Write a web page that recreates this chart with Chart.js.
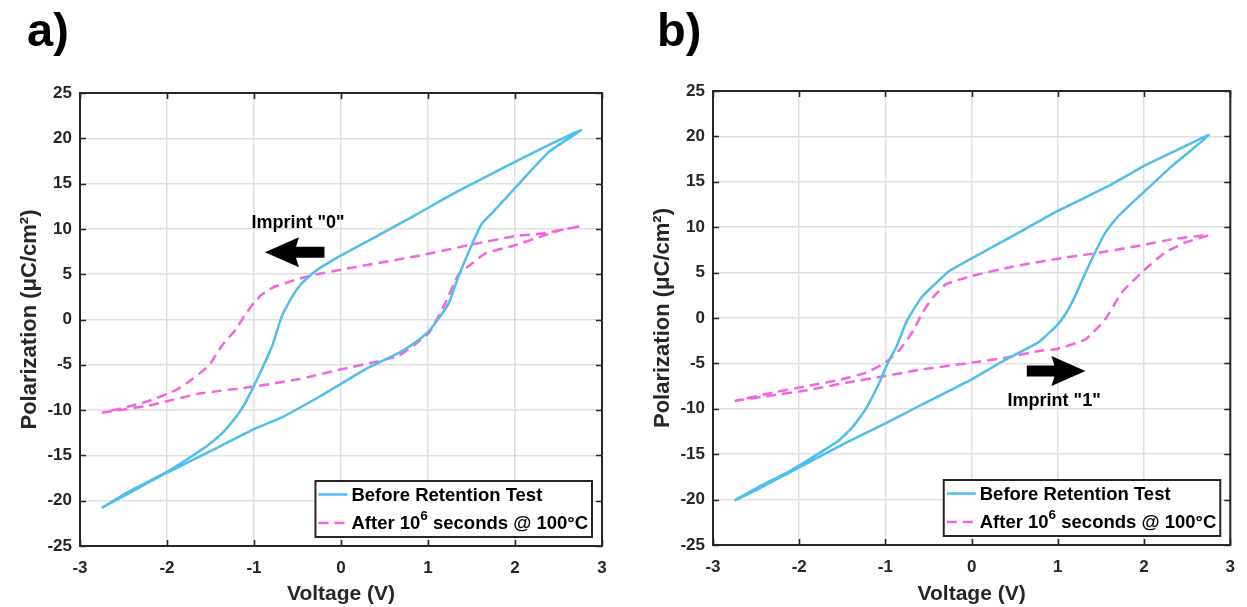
<!DOCTYPE html>
<html><head><meta charset="utf-8">
<script src="https://cdn.jsdelivr.net/npm/chart.js@4.4.1/dist/chart.umd.min.js"></script>
<style>
html,body{margin:0;padding:0;background:#fff;width:1247px;height:607px;overflow:hidden}
canvas{position:absolute;top:0}
#ca{left:0}
#cb{left:633px}
</style></head><body>
<canvas id="ca" width="620" height="607"></canvas>
<canvas id="cb" width="614" height="607"></canvas>
<script>
// ---------- data ----------
const voltageTicks = [-3, -2, -1, 0, 1, 2, 3];
const polarizationTicks = [-25, -20, -15, -10, -5, 0, 5, 10, 15, 20, 25];
const seriesBefore = 'Before Retention Test';
const seriesAfter = ['After 10', '6', ' seconds @ 100°C'];
const panelLabels = ['a)', 'b)'];
const imprintLabels = ['Imprint "0"', 'Imprint "1"'];

// panel a, before retention (loop: ascending branch then descending branch)
const aBeforeV = [-2.75, -2.52, -2.02, -1.56, -1.37, -1.0, -0.68, -0.30, 0, 0.28, 0.66, 0.85, 0.99, 1.10, 1.24, 1.35, 1.51, 1.62, 1.77, 2.0, 2.39, 2.76,
                  2.46, 2.00, 1.35, 0.85, 0.47, 0, -0.30, -0.45, -0.56, -0.68, -0.79, -0.91, -1.0, -1.10, -1.21, -1.37, -1.56, -1.98, -2.44, -2.75];
const aBeforeP = [-20.8, -19.6, -17.0, -14.8, -13.9, -12.1, -10.8, -8.8, -7.1, -5.5, -3.7, -2.56, -1.47, -0.18, 1.83, 4.76, 8.4, 10.6, 12.1, 14.5, 18.5, 20.9,
                  19.6, 17.4, 14.2, 11.5, 9.5, 7.07, 5.3, 4.0, 2.56, 0.37, -2.9, -5.5, -7.3, -9.2, -10.8, -12.6, -14.1, -16.7, -19.0, -20.8];
// panel a, after 1e6 s @ 100C
const aAfterV = [-2.75, -2.21, -1.64, -1.0, -0.49, 0, 0.36, 0.66, 0.85, 1.01, 1.08, 1.20, 1.35, 1.51, 1.66, 2.0, 2.31, 2.54, 2.76,
                 2.31, 2.0, 1.54, 0.85, 0, -0.30, -0.52, -0.79, -0.91, -1.0, -1.10, -1.21, -1.37, -1.52, -1.71, -1.90, -2.21, -2.52, -2.75];
const aAfterP = [-10.3, -9.5, -8.2, -7.4, -6.6, -5.5, -4.76, -4.0, -2.75, -1.47, -0.37, 1.83, 4.95, 6.2, 7.3, 8.2, 9.2, 9.9, 10.3,
                 9.5, 9.2, 8.35, 6.96, 5.5, 4.95, 4.4, 3.5, 2.75, 1.83, 0.55, -1.1, -2.9, -5.1, -6.6, -7.8, -9.0, -9.8, -10.3];
// panel b, before retention
const bBeforeV = [-2.75, -2.49, -2.01, -1.45, -1.0, -0.57, 0, 0.40, 0.78, 1.0, 1.11, 1.20, 1.32, 1.43, 1.55, 1.70, 1.99, 2.32, 2.75,
                  2.32, 1.99, 1.86, 1.55, 1.0, 0.51, 0, -0.26, -0.45, -0.57, -0.66, -0.76, -0.87, -0.97, -1.07, -1.22, -1.37, -1.53, -1.72, -2.10, -2.49, -2.75];
const bBeforeP = [-20.1, -18.9, -16.5, -13.7, -11.6, -9.5, -6.75, -4.55, -2.64, -0.70, 0.77, 2.42, 4.99, 7.19, 9.4, 11.2, 13.8, 16.7, 20.15,
                  18.2, 16.7, 16.0, 14.35, 11.8, 9.2, 6.57, 5.17, 3.5, 2.4, 1.14, -0.5, -3.1, -4.9, -7.1, -9.9, -11.9, -13.4, -14.6, -16.8, -18.7, -20.1];
// panel b, after 1e6 s @ 100C
const bAfterV = [-2.75, -2.30, -1.91, -1.45, -1.0, -0.57, 0, 0.40, 0.78, 1.0, 1.32, 1.55, 1.74, 1.99, 2.24, 2.47, 2.75,
                 2.32, 1.93, 1.43, 1.0, 0.47, 0, -0.30, -0.45, -0.57, -0.68, -0.83, -1.0, -1.22, -1.53, -1.91, -2.30, -2.75];
const bAfterP = [-9.14, -8.5, -7.96, -7.12, -6.39, -5.65, -4.92, -4.37, -3.63, -3.38, -2.35, -0.15, 2.79, 5.17, 7.19, 8.29, 9.14,
                 8.66, 7.93, 7.12, 6.53, 5.65, 4.62, 3.7, 2.24, 0.59, -1.43, -3.45, -4.9, -6.0, -6.8, -7.5, -8.2, -9.14];

// arrows (data units): tailV, tipV, P ; label position (V, P)
const aArrow = [-0.19, -0.874, 7.42];
const aArrowLabel = [-0.494, 10.68];
const bArrow = [0.64, 1.32, -5.83];
const bArrowLabel = [0.957, -9.17];

// ---------- styling ----------
const FONT = '"Liberation Sans", Arial, Helvetica, sans-serif';
const BLUE = '#4DBEEE';
const PINK = '#F564DF';
const AXIS = '#262626';

function pts(xs, ys) { return xs.map((x, i) => ({x: x, y: ys[i]})); }

function decorPlugin(cfg) {
  return {
    id: 'decor',
    afterDatasetsDraw(chart) {
      const ctx = chart.ctx, ca = chart.chartArea;
      const xs = chart.scales.x, ys = chart.scales.y;
      ctx.save();
      ctx.strokeStyle = AXIS;
      ctx.lineWidth = 1.6;
      ctx.beginPath();
      voltageTicks.forEach(v => {
        const px = Math.round(xs.getPixelForValue(v)) + 0.5;
        ctx.moveTo(px, ca.bottom); ctx.lineTo(px, ca.bottom - 6);
        ctx.moveTo(px, ca.top); ctx.lineTo(px, ca.top + 6);
      });
      polarizationTicks.forEach(p => {
        const py = Math.round(ys.getPixelForValue(p)) + 0.5;
        ctx.moveTo(ca.left, py); ctx.lineTo(ca.left + 6, py);
        ctx.moveTo(ca.right, py); ctx.lineTo(ca.right - 6, py);
      });
      ctx.stroke();
      ctx.lineWidth = 2;
      ctx.strokeRect(ca.left, ca.top, ca.right - ca.left, ca.bottom - ca.top);
      ctx.restore();
    },
    afterDraw(chart) {
      const ctx = chart.ctx, ca = chart.chartArea;
      const xs = chart.scales.x, ys = chart.scales.y;
      ctx.save();
      // panel label
      ctx.fillStyle = '#000';
      ctx.font = 'bold 47px ' + FONT;
      ctx.textBaseline = 'alphabetic';
      ctx.textAlign = 'left';
      ctx.fillText(cfg.label, cfg.labelX, 46);

      // arrow
      const [tV, hV, aP] = cfg.arrow;
      const x0 = xs.getPixelForValue(tV), x1 = xs.getPixelForValue(hV), y = ys.getPixelForValue(aP);
      const dir = Math.sign(x1 - x0);
      const sh = 5.5, hh = 15, hl = 31;
      const xb = x1 - dir * hl;
      ctx.beginPath();
      ctx.moveTo(x0, y - sh); ctx.lineTo(xb, y - sh); ctx.lineTo(xb - dir * 3, y - hh);
      ctx.lineTo(x1, y); ctx.lineTo(xb - dir * 3, y + hh); ctx.lineTo(xb, y + sh); ctx.lineTo(x0, y + sh);
      ctx.closePath();
      ctx.fill();
      ctx.font = 'bold 18px ' + FONT;
      ctx.textAlign = 'center';
      ctx.textBaseline = 'middle';
      ctx.fillText(cfg.arrowText, xs.getPixelForValue(cfg.arrowLabel[0]), ys.getPixelForValue(cfg.arrowLabel[1]));

      // legend
      const f = 'bold 18.5px ' + FONT, fs = 'bold 13.5px ' + FONT;
      ctx.font = f;
      const w1 = ctx.measureText(seriesBefore).width;
      const wa = ctx.measureText(seriesAfter[0]).width;
      const wc = ctx.measureText(seriesAfter[2]).width;
      ctx.font = fs;
      const wb = ctx.measureText(seriesAfter[1]).width;
      const w2 = wa + wb + wc;
      const textW = Math.max(w1, w2);
      const boxW = 3 + 29 + 4 + textW + 4;
      const boxH = 56;
      const right = ca.right - 10, bottom = ca.bottom - 9;
      const left = right - boxW, top = bottom - boxH;
      ctx.fillStyle = '#fff';
      ctx.fillRect(left, top, boxW, boxH);
      ctx.strokeStyle = AXIS;
      ctx.lineWidth = 2;
      ctx.strokeRect(left, top, boxW, boxH);
      const r1 = top + 13.5, r2 = top + 42;
      ctx.lineWidth = 2.5;
      ctx.strokeStyle = BLUE;
      ctx.beginPath(); ctx.moveTo(left + 3, r1); ctx.lineTo(left + 32, r1); ctx.stroke();
      ctx.strokeStyle = PINK;
      ctx.setLineDash([10, 6]);
      ctx.beginPath(); ctx.moveTo(left + 3, r2); ctx.lineTo(left + 32, r2); ctx.stroke();
      ctx.setLineDash([]);
      ctx.fillStyle = '#000';
      ctx.textAlign = 'left';
      ctx.textBaseline = 'middle';
      const tx = left + 36;
      ctx.font = f;
      ctx.fillText(seriesBefore, tx, r1 + 1);
      ctx.fillText(seriesAfter[0], tx, r2 + 1);
      ctx.font = fs;
      ctx.fillText(seriesAfter[1], tx + wa, r2 - 7);
      ctx.font = f;
      ctx.fillText(seriesAfter[2], tx + wa + wb, r2 + 1);
      ctx.restore();
    }
  };
}

function makeChart(id, beforeV, beforeP, afterV, afterP, cfg) {
  return new Chart(document.getElementById(id), {
    type: 'scatter',
    data: {
      datasets: [
        { label: seriesBefore, data: pts(beforeV, beforeP), showLine: true, borderColor: BLUE, backgroundColor: BLUE,
          borderWidth: 2.5, pointRadius: 0, tension: 0.15 },
        { label: seriesAfter.join(''), data: pts(afterV, afterP), showLine: true, borderColor: PINK, backgroundColor: PINK,
          borderWidth: 2.5, borderDash: [10, 6], pointRadius: 0, tension: 0.15 }
      ]
    },
    options: {
      responsive: false,
      animation: false,
      devicePixelRatio: 1,
      layout: { padding: { left: 0, top: cfg.padTop, right: cfg.padRight, bottom: 0 } },
      plugins: { legend: { display: false }, tooltip: { enabled: false } },
      scales: {
        x: {
          type: 'linear', min: -3, max: 3,
          afterBuildTicks: s => { s.ticks = voltageTicks.map(v => ({value: v})); },
          afterFit: s => { s.height = cfg.xHeight; },
          ticks: { color: AXIS, padding: 12, font: { family: FONT, size: 17, weight: 'bold' }, maxRotation: 0 },
          grid: { color: '#dfdfdf', lineWidth: 1.5, drawTicks: false },
          border: { display: false },
          title: { display: true, text: 'Voltage (V)', color: AXIS, padding: { top: 0, bottom: 0 },
                   font: { family: FONT, size: 21, weight: 'bold' } }
        },
        y: {
          type: 'linear', min: -25, max: 25,
          afterBuildTicks: s => { s.ticks = polarizationTicks.map(v => ({value: v})); },
          afterFit: s => { s.width = 80; },
          ticks: { color: AXIS, padding: 8, font: { family: FONT, size: 17, weight: 'bold' } },
          grid: { color: '#dfdfdf', lineWidth: 1.5, drawTicks: false },
          border: { display: false },
          title: { display: true, text: 'Polarization (μC/cm²)', color: AXIS, padding: { top: 17, bottom: 0 },
                   font: { family: FONT, size: 22, weight: 'bold' } }
        }
      }
    },
    plugins: [decorPlugin(cfg)]
  });
}

makeChart('ca', aBeforeV, aBeforeP, aAfterV, aAfterP,
  { padTop: 93, padRight: 18, xHeight: 61, label: panelLabels[0], labelX: 27,
    arrow: aArrow, arrowLabel: aArrowLabel, arrowText: imprintLabels[0] });
makeChart('cb', bBeforeV, bBeforeP, bAfterV, bAfterP,
  { padTop: 91, padRight: 15, xHeight: 62, label: panelLabels[1], labelX: 24,
    arrow: bArrow, arrowLabel: bArrowLabel, arrowText: imprintLabels[1] });
</script>
</body></html>
